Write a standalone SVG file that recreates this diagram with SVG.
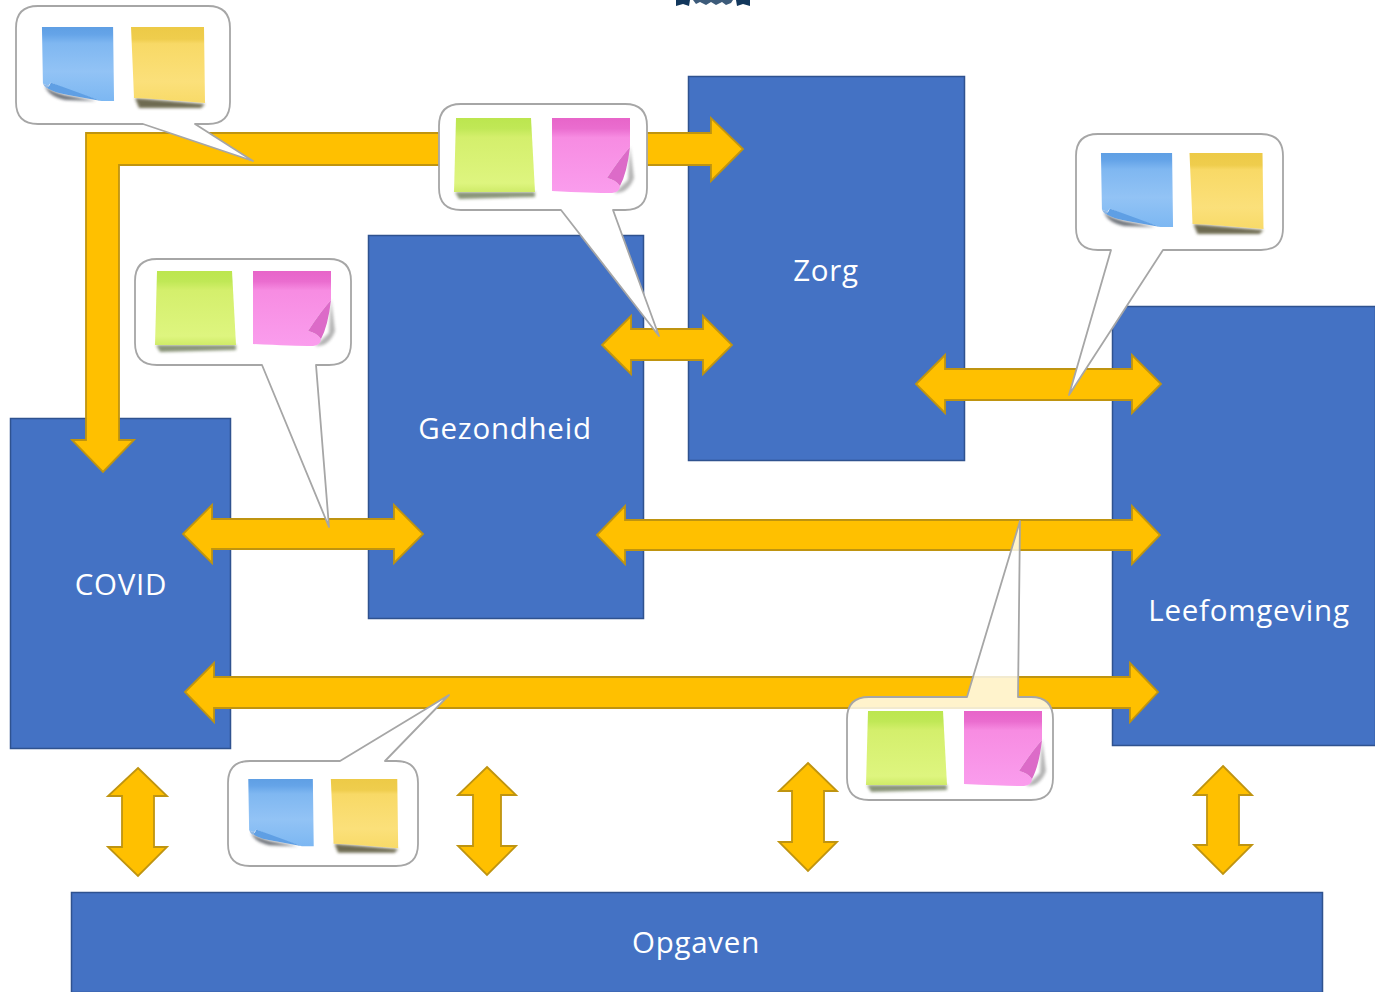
<svg xmlns="http://www.w3.org/2000/svg" width="1375" height="992" viewBox="0 0 1375 992">
<style>
.block{fill:#4472c4;stroke:#2f528f;stroke-width:1.5}
.arrow{fill:#ffc000;stroke:#bf9410;stroke-width:1.8;stroke-linejoin:miter}
.callout{fill:#fff;stroke:#a6a6a6;stroke-width:1.8;stroke-linejoin:round}
.label{font-family:"Open Sans","Noto Sans",sans-serif;font-size:29.5px;fill:#fff;text-anchor:middle;letter-spacing:.75px}
</style>
<defs>
<filter id="blur" x="-30%" y="-60%" width="160%" height="220%"><feGaussianBlur stdDeviation="1.8"/></filter>
<linearGradient id="gb" x1="0" y1="0" x2="0" y2="1"><stop offset="0" stop-color="#5f9fe4"/><stop offset=".1" stop-color="#65a4e8"/><stop offset=".22" stop-color="#7fb7f1"/><stop offset=".6" stop-color="#92c3f5"/><stop offset="1" stop-color="#7cb7f2"/></linearGradient>
<linearGradient id="gy" x1="0" y1="0" x2="0" y2="1"><stop offset="0" stop-color="#edca47"/><stop offset=".16" stop-color="#efcd4d"/><stop offset=".22" stop-color="#f8d966"/><stop offset=".72" stop-color="#fbe07a"/><stop offset="1" stop-color="#f8da68"/></linearGradient>
<linearGradient id="gg" x1="0" y1="0" x2="0" y2="1"><stop offset="0" stop-color="#bce64f"/><stop offset=".14" stop-color="#c0e856"/><stop offset=".26" stop-color="#d4ef6c"/><stop offset=".88" stop-color="#def57f"/><stop offset="1" stop-color="#cfeb68"/></linearGradient>
<linearGradient id="gp" x1="0" y1="0" x2="0" y2="1"><stop offset="0" stop-color="#e765c9"/><stop offset=".14" stop-color="#ea6dcf"/><stop offset=".26" stop-color="#f78ce2"/><stop offset="1" stop-color="#fa9ded"/></linearGradient>
<symbol id="note-blue" viewBox="0 0 74 78" overflow="visible">
<path d="M3 60Q8 66 24 70L56 76L24 75Q6 71 3 60Z" fill="#4a4f58" opacity=".8" filter="url(#blur)"/>
<path d="M0 0H73L74 76H61L30 66L9 57Q7 62 1 58Z" fill="url(#gb)"/>
<path d="M9 57L61 76L34 71Q10 67 5 62Q8 61 9 57Z" fill="#5f9fe4"/>
<path d="M1 58Q7 62 9 57L5 63Q2 61 1 58Z" fill="#8fb8e6"/>
</symbol>
<symbol id="note-yellow" viewBox="0 0 74 78" overflow="visible">
<path d="M4 71L74 77L70 81L8 81Z" fill="#4c4628" opacity=".8" filter="url(#blur)"/>
<path d="M0 0H73L74 76L36 73Q12 71 3 71Q2 45 0 0Z" fill="url(#gy)"/>
</symbol>
<symbol id="note-green" viewBox="0 0 80 79" overflow="visible">
<path d="M0 74H80V79L4 81Z" fill="#4c5c30" opacity=".65" filter="url(#blur)"/>
<path d="M1 0H76L80 74H-1Z" fill="url(#gg)"/>
</symbol>
<symbol id="note-pink" viewBox="0 0 79 76" overflow="visible">
<path d="M78 28L82 60Q76 76 62 75L76 62Z" fill="#777" opacity=".55" filter="url(#blur)"/>
<path d="M0 0H78V29Q68 40 55 60Q64 62 68 68Q68 74 60 75Q40 75 0 73Z" fill="url(#gp)"/>
<path d="M78 29Q75 55 68 68Q64 62 55 60Q68 40 78 29Z" fill="#dc6bc8"/>
</symbol>
</defs>
<rect width="1375" height="992" fill="#fff"/>
<g id="logo" fill="#12375c"><path d="M676 0H690L689 6L683 4L676 6Z"/><path d="M736 0H750V6L743 4L737 6Z"/><path d="M693 0H733L731 3L726 5L722 2L716 5L711 2L706 5L700 2L696 4Z" fill="#3d5b7a"/></g>
<g id="node-covid"><rect class="block" x="10.500" y="418.500" width="220" height="330"/><text class="label" x="121" y="595">COVID</text></g>
<g id="node-gezondheid"><rect class="block" x="368.500" y="235.500" width="275" height="383"/><text class="label" x="505" y="439">Gezondheid</text></g>
<g id="node-zorg"><rect class="block" x="688.500" y="76.500" width="276" height="384"/><text class="label" x="826" y="281">Zorg</text></g>
<g id="node-leefomgeving"><rect class="block" x="1112.500" y="306.500" width="263" height="439"/><text class="label" x="1249" y="621">Leefomgeving</text></g>
<g id="node-opgaven"><rect class="block" x="71.500" y="892.500" width="1251" height="100"/><text class="label" x="696" y="953">Opgaven</text></g>
<g id="connectors">
<path class="arrow" d="M86 133H711V118L743 149L711 181V165H119V440H134L103 472L72 440H86Z"/>
<path class="arrow" d="M602 345L631 316V329H703V316L732 345L703 374V360H631V374Z"/>
<path class="arrow" d="M916 384L945 355V369H1132V355L1161 384L1132 413V400H945V413Z"/>
<path class="arrow" d="M183 534L212 505V519H394V505L423 534L394 563V549H212V563Z"/>
<path class="arrow" d="M597 535L625 506V520H1132V506L1160 535L1132 564V550H625V564Z"/>
<path class="arrow" d="M185 692L214 663V677H1130V663L1158 692L1130 722V708H214V722Z"/>
<path class="arrow" d="M138 768L167 796H154V847H167L138 876L108 847H122V796H108Z"/>
<path class="arrow" d="M487 767L516 795H501V846H516L487 875L458 846H473V795H458Z"/>
<path class="arrow" d="M808 763L837 791H824V842H837L808 871L779 842H792V791H779Z"/>
<path class="arrow" d="M1223 766L1252 795H1239V845H1252L1223 874L1194 845H1207V795H1194Z"/>
</g>
<g id="callout-1"><path class="callout" d="M38 6H208Q230 6 230 28V102Q230 124 208 124H195L253 161L143 124H38Q16 124 16 102V28Q16 6 38 6Z"/>
<use href="#note-blue" x="41" y="27" width="74" height="76"/><use href="#note-yellow" x="131" y="27" width="74" height="78"/></g>
<g id="callout-2"><path class="callout" d="M461 104H625Q647 104 647 126V188Q647 210 625 210H613L659 336L561 210H461Q439 210 439 188V126Q439 104 461 104Z"/>
<use href="#note-green" x="455" y="118" width="80" height="79"/><use href="#note-pink" x="552" y="118" width="79" height="76"/></g>
<g id="callout-3"><path class="callout" d="M157 259H329Q351 259 351 281V343Q351 365 329 365H316L329 527L262 365H157Q135 365 135 343V281Q135 259 157 259Z"/>
<use href="#note-green" x="156" y="271" width="80" height="79"/><use href="#note-pink" x="253" y="271" width="79" height="76"/></g>
<g id="callout-4"><path class="callout" d="M1098 134H1261Q1283 134 1283 156V228Q1283 250 1261 250H1163L1069 395L1111 250H1098Q1076 250 1076 228V156Q1076 134 1098 134Z"/>
<use href="#note-blue" x="1100" y="153" width="74" height="76"/><use href="#note-yellow" x="1189" y="153" width="75" height="78"/></g>
<g id="callout-5"><path class="callout" style="fill-opacity:.8" d="M869 697H967L1020 521L1018 697H1031Q1053 697 1053 719V778Q1053 800 1031 800H869Q847 800 847 778V719Q847 697 869 697Z"/>
<use href="#note-green" x="867" y="711" width="80" height="79"/><use href="#note-pink" x="964" y="711" width="79" height="76"/></g>
<g id="callout-6"><path class="callout" d="M250 761H340L449 695L385 761H396Q418 761 418 783V844Q418 866 396 866H250Q228 866 228 844V783Q228 761 250 761Z"/>
<use href="#note-blue" x="246" y="779" width="70" height="69"/><use href="#note-yellow" x="330" y="779" width="69" height="71"/></g>
</svg>
